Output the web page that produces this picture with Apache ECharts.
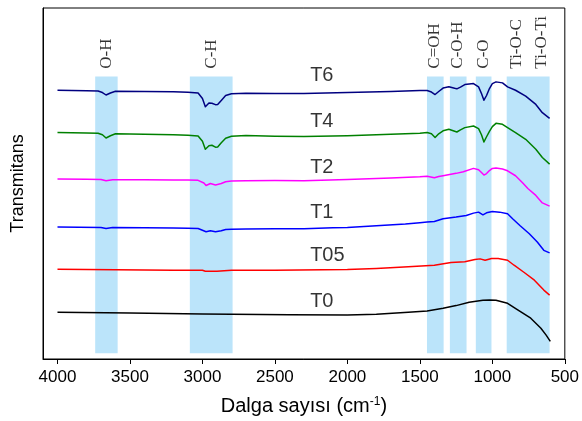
<!DOCTYPE html>
<html><head><meta charset="utf-8">
<script src="https://cdn.jsdelivr.net/npm/echarts@6/dist/echarts.min.js"></script>
<style>html,body{margin:0;padding:0;background:#fff}#c{width:582px;height:421px}</style>
</head><body><div id="c"></div>
<script>
const xTicks = [4000, 3500, 3000, 2500, 2000, 1500, 1000, 500];
const seriesNames = ['T0', 'T05', 'T1', 'T2', 'T4', 'T6'];
const seriesColors = ['#000000', '#ff0000', '#0000ff', '#ff00ff', '#008000', '#000080'];

const T6 = [[4000,270.2],[3800,269.8],[3720,269.5],[3690,268],[3665,265.5],[3635,267.5],[3600,269.2],[3400,269],[3200,268.7],[3100,268.2],[3030,267.5],[3000,262],[2980,253.7],[2955,257.5],[2935,257.2],[2910,255.8],[2895,256],[2870,260],[2840,265],[2800,266.8],[2700,267.2],[2500,267],[2300,267],[2000,268],[1700,269],[1500,270],[1450,270],[1420,268.5],[1395,266],[1370,269],[1340,272.5],[1300,273.7],[1260,272.2],[1245,271.7],[1220,273.5],[1190,276],[1130,277],[1095,273.7],[1075,267],[1058,260.3],[1040,265],[1020,272],[1000,277],[975,278.7],[930,277.7],[895,273.7],[840,270.3],[770,264.3],[700,256],[655,247.7],[605,242]];
const T4 = [[4000,227.7],[3800,227.2],[3720,227],[3690,225.5],[3665,222.3],[3635,224.5],[3600,226.5],[3400,226],[3200,225.5],[3100,225],[3030,224.3],[3000,219],[2980,211],[2955,214.5],[2935,215],[2910,213],[2895,213.3],[2870,217.5],[2840,222],[2800,224],[2700,224.7],[2500,224],[2300,223.7],[2000,224.5],[1700,226],[1500,227],[1450,227.7],[1420,226.5],[1395,222.7],[1370,226.5],[1340,229.5],[1300,231],[1260,229],[1245,228.3],[1220,230.5],[1190,232.7],[1130,234.3],[1095,231.7],[1075,225.5],[1058,218.3],[1040,223.5],[1020,229],[1000,233.7],[975,237],[930,236],[895,232.7],[840,227.7],[770,221],[700,211],[655,202.7],[605,196]];
const T2 = [[4000,181],[3800,180.7],[3700,180.5],[3665,179.2],[3620,180.3],[3400,180.2],[3200,180],[3100,180],[3030,179.7],[2990,177],[2975,174.5],[2945,176.5],[2910,175],[2870,176.5],[2840,178.3],[2800,179],[2700,179.3],[2500,179.5],[2300,179.3],[2000,180.5],[1700,182],[1500,183.2],[1450,183.7],[1400,182.2],[1370,183.5],[1340,184.3],[1250,186.7],[1200,188.3],[1130,191.7],[1095,190.3],[1075,187.5],[1058,185],[1040,186.5],[1020,189.5],[1000,191.7],[975,192],[930,191],[895,189.3],[840,184.3],[790,177],[755,171.5],[700,164.5],[655,157],[605,153.7]];
const T1 = [[4000,132.7],[3700,132.3],[3665,131.3],[3620,132.2],[3400,132],[3200,131.8],[3100,131.5],[3030,131.2],[3000,129.5],[2975,128],[2945,129],[2910,128],[2870,129],[2840,130.3],[2800,130.5],[2700,130.7],[2500,131],[2300,131],[2100,132],[2000,132.3],[1800,134],[1600,135.7],[1500,137],[1450,137.7],[1400,138.3],[1340,141],[1250,142.7],[1180,144.3],[1130,146.7],[1095,147.7],[1065,145],[1040,147],[1000,148.3],[950,147.7],[895,146],[860,141],[810,134.3],[745,126],[690,117.7],[645,109.3],[605,106.7]];
const T05 = [[4000,90.3],[3600,89.7],[3200,89.2],[3000,89.3],[2980,88.3],[2900,88.3],[2800,89.2],[2500,89.3],[2000,90],[1800,91],[1580,92.7],[1400,94.3],[1285,97],[1190,97.7],[1120,100],[1085,100.7],[1050,99.3],[1005,101],[960,101],[895,99.3],[850,94.3],[780,87],[710,79.3],[645,69.3],[605,64.3]];
const T0 = [[4000,47],[3500,46.3],[3000,45.3],[2400,44.5],[2000,44.3],[1800,45],[1580,47],[1450,48.3],[1340,51],[1250,53.7],[1160,57],[1065,59],[1020,59.3],[975,59],[895,56],[825,49.3],[735,41],[665,31],[630,24.3],[600,17.7]];
const allSeries = [T0, T05, T1, T2, T4, T6];

// band ranges (wavenumber) and their labels
const bandRanges = [[3740, 3585], [3087, 2792], [1451, 1336], [1293, 1178], [1114, 1006], [901, 605]];
const bandLabelNames = ['O-H', 'C-H', 'C=OH', 'C-O-H', 'C-O', 'Ti-O-C', 'Ti-O-Ti'];
const bandLabelX = [3662, 2940, 1396, 1237, 1061, 830, 658];
const bandTop = 284, bandBottom = 5.7, bandLabelY = 292;

// curve labels
const curveLabelX = 2257;
const curveLabelY = [57.5, 104.5, 147.5, 193, 238.5, 285];

const chart = echarts.init(document.getElementById('c'), null, {renderer: 'canvas'});
const series = [];
series.push({
  type: 'line', data: [], silent: true,
  markArea: {
    silent: true,
    itemStyle: {color: '#bbe4fa', opacity: 1},
    data: bandRanges.map(r => [{xAxis: r[0], yAxis: bandBottom}, {xAxis: r[1], yAxis: bandTop}])
  }
});
allSeries.forEach((d, i) => {
  series.push({
    name: seriesNames[i], type: 'line', data: d, showSymbol: false, smooth: false,
    lineStyle: {color: seriesColors[i], width: 1.5, join: 'round'}, z: 3
  });
});
series.push({
  type: 'scatter', symbolSize: 1, itemStyle: {color: 'rgba(0,0,0,0)'}, silent: true, z: 5,
  data: bandLabelNames.map((n, i) => [bandLabelX[i], bandLabelY, n]),
  label: {
    show: true, position: 'inside', rotate: 90, align: 'left', verticalAlign: 'middle',
    formatter: p => p.data[2], fontFamily: 'Liberation Serif', fontSize: 17, color: '#000'
  }
});
series.push({
  type: 'scatter', symbolSize: 1, itemStyle: {color: 'rgba(0,0,0,0)'}, silent: true, z: 5,
  data: seriesNames.map((n, i) => [curveLabelX, curveLabelY[i], n]),
  label: {
    show: true, position: 'inside', align: 'left', verticalAlign: 'middle',
    formatter: p => p.data[2], fontFamily: 'Liberation Sans', fontSize: 20, color: '#000'
  }
});

chart.setOption({
  animation: false,
  backgroundColor: '#fff',
  grid: {left: 43, right: 15, top: 8, bottom: 60, show: true, borderColor: '#000', borderWidth: 1, backgroundColor: 'transparent'},
  xAxis: {
    type: 'value', inverse: true, min: 500, max: 4100,
    name: 'Dalga sayısı (cm{sup|-1})', nameLocation: 'middle', nameGap: 37,
    nameTextStyle: {fontFamily: 'Liberation Sans', fontSize: 20, color: '#000',
      rich: {sup: {fontFamily: 'Liberation Sans', fontSize: 12, color: '#000', verticalAlign: 'top', padding: [0, 0, 7, 0]}}},
    axisLine: {show: true, lineStyle: {color: '#000', width: 1}},
    axisTick: {show: true, length: 5, customValues: xTicks, lineStyle: {color: '#000'}},
    axisLabel: {customValues: xTicks, margin: 10, fontFamily: 'Liberation Sans', fontSize: 17, color: '#000', formatter: v => String(v)},
    splitLine: {show: false}
  },
  yAxis: {
    type: 'value', min: 0, max: 353,
    name: 'Transmitans', nameLocation: 'middle', nameGap: 16,
    nameTextStyle: {fontFamily: 'Liberation Sans', fontSize: 18, color: '#000'},
    axisLine: {show: true, lineStyle: {color: '#000', width: 1}},
    axisTick: {show: false}, axisLabel: {show: false}, splitLine: {show: false}
  },
  series: series
});
</script></body></html>
